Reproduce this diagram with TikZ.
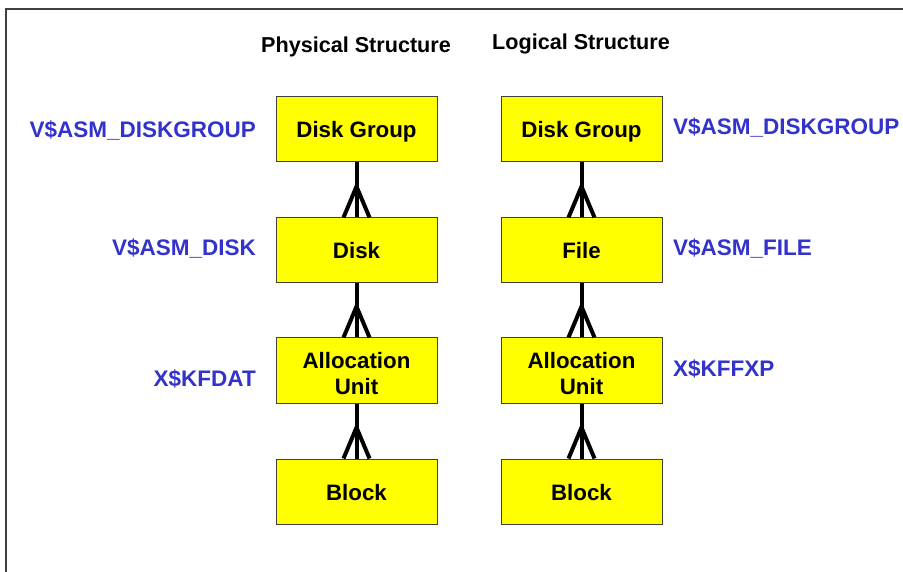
\documentclass[tikz,border=0pt]{standalone}
\usepackage{fontspec}
\setmainfont{Liberation Sans}
\definecolor{lblblue}{RGB}{51,51,204}
\definecolor{boxyellow}{RGB}{255,255,0}
\begin{document}
\begin{tikzpicture}[x=1pt,y=-1pt,
  ent/.style={draw=black!75,line width=1pt,fill=boxyellow,minimum width=161pt,minimum height=65pt,inner sep=0pt,font=\bfseries\fontsize{22.3}{26}\selectfont,align=center},
  one/.style={text height=22pt,text depth=5pt},
  two/.style={text height=48pt},
  lbl/.style={font=\bfseries\fontsize{22.5}{26}\selectfont,text=lblblue,inner sep=0pt},
  hdr/.style={font=\bfseries\fontsize{21.6}{24}\selectfont,inner sep=0pt},
  rel/.style={line width=4pt,black}]
\useasboundingbox (0,0) rectangle (903,572);
\clip (0,0) rectangle (903,572);
\draw[black!75,line width=1.2pt] (6,9) rectangle (920,600);
% headers
\node[hdr] (hp) at (356,47) {Physical Structure};
\node[hdr] (hl) at (581,44) {Logical Structure};
% physical column
\node[ent,one] (pdg) at (356.5,129.5) {Disk Group};
\node[ent,one] (pd)  at (356.5,250.5) {Disk};
\node[ent,two] (pau) at (356.5,370.5) {Allocation\\Unit};
\node[ent,one] (pb)  at (356.5,491.5) {Block};
% logical column
\node[ent,one] (ldg) at (581.5,129.5) {Disk Group};
\node[ent,one] (lf)  at (581.5,250.5) {File};
\node[ent,two] (lau) at (581.5,370.5) {Allocation\\Unit};
\node[ent,one] (lb)  at (581.5,491.5) {Block};
% labels
\node[lbl,anchor=east] (l1) at (256,131) {V\$ASM\_DISKGROUP};
\node[lbl,anchor=east] (l2) at (256,249) {V\$ASM\_DISK};
\node[lbl,anchor=east] (l3) at (256,379) {X\$KFDAT};
\node[lbl,anchor=west] (r1) at (673,128) {V\$ASM\_DISKGROUP};
\node[lbl,anchor=west] (r2) at (673,249) {V\$ASM\_FILE};
\node[lbl,anchor=west] (r3) at (673,369) {X\$KFFXP};
% connectors with crow's feet
\foreach \u/\l in {pdg/pd,pd/pau,pau/pb,ldg/lf,lf/lau,lau/lb}{
  \draw[rel] (\u.south) -- (\l.north);
  \coordinate (f) at ([yshift=31pt]\l.north);
  \draw[rel] ([xshift=-13pt]\l.north) -- (f) -- ([xshift=13pt]\l.north);
}
\end{tikzpicture}
\end{document}
